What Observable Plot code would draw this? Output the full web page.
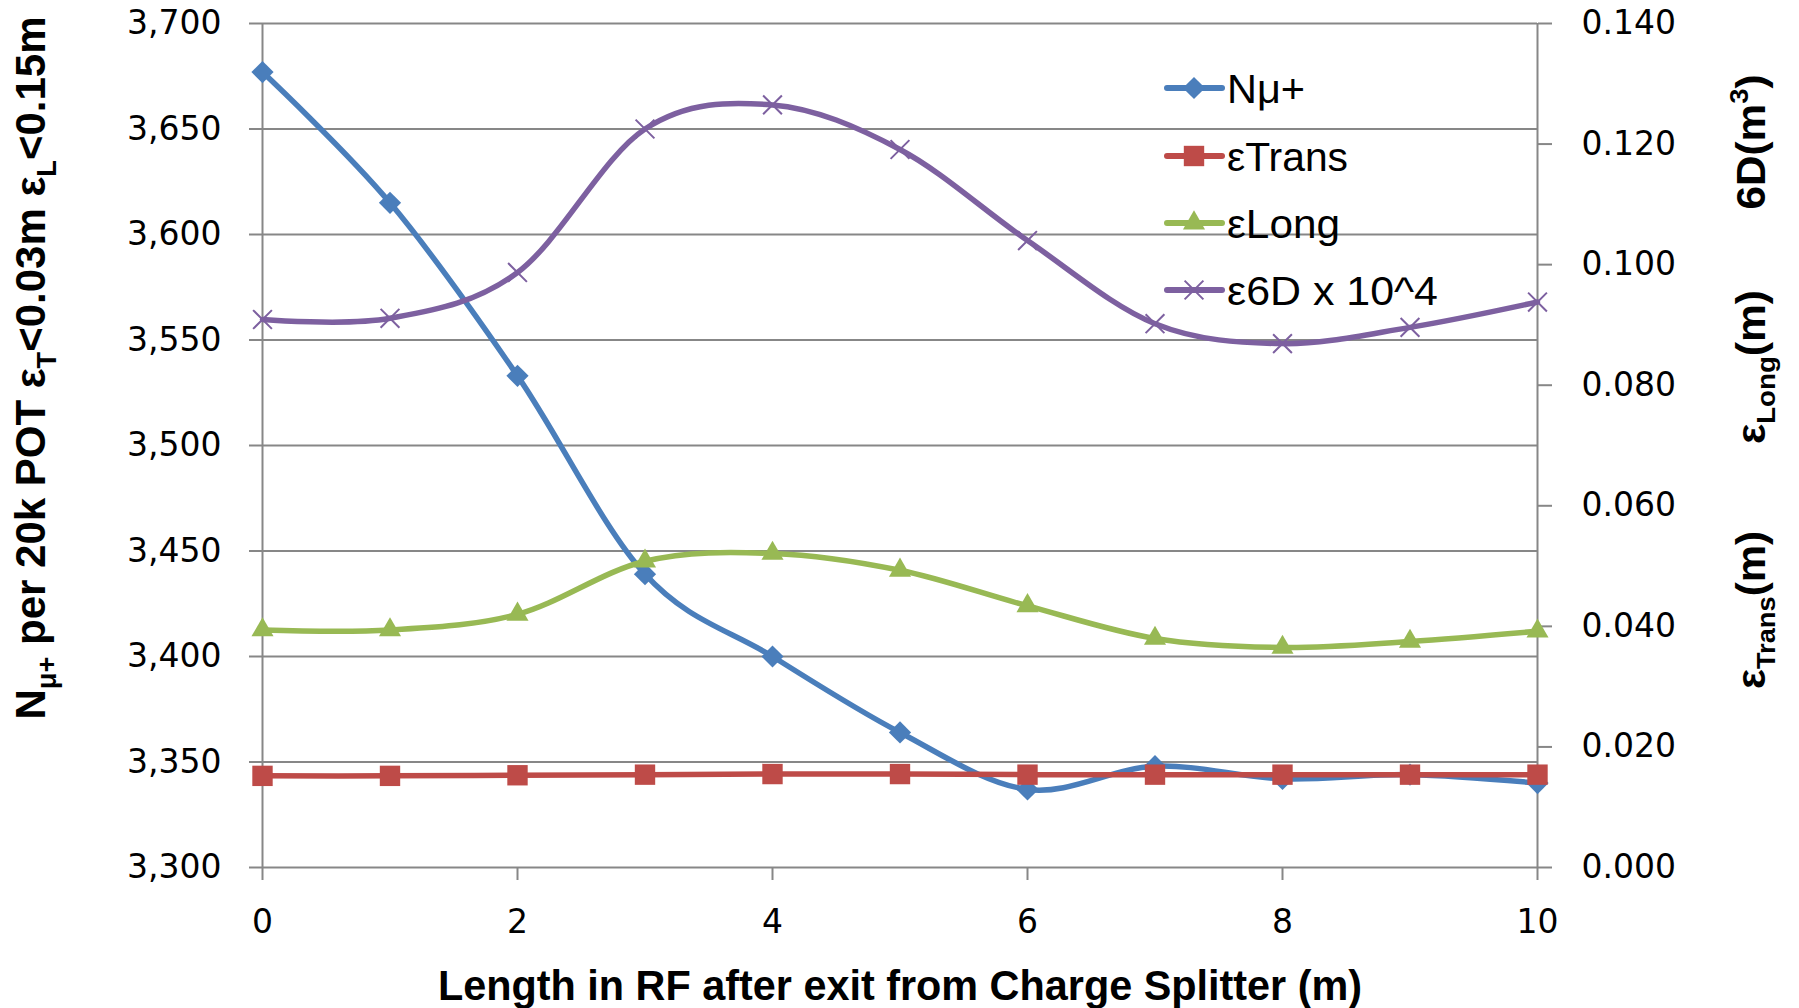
<!DOCTYPE html>
<html><head><meta charset="utf-8">
<script src="https://cdn.jsdelivr.net/npm/d3@7"></script>
<script src="https://cdn.jsdelivr.net/npm/@observablehq/plot@0.6"></script>
<style>
body{margin:0;background:#fff}
#chart{position:relative;width:1799px;height:1008px}
</style>
</head><body><div id="chart"></div>
<script>
// ---- data ----
const lengthM = [0, 1, 2, 3, 4, 5, 6, 7, 8, 9, 10];
const nMu     = [3677, 3615, 3533, 3439, 3400, 3364, 3337, 3348, 3342, 3344, 3340];
const eTrans  = [0.0152, 0.0152, 0.0153, 0.0154, 0.0155, 0.0155, 0.0154, 0.0154, 0.0154, 0.0154, 0.0154];
const eLong   = [0.0394, 0.0394, 0.0420, 0.0508, 0.0521, 0.0493, 0.0434, 0.0380, 0.0365, 0.0375, 0.0392];
const e6D     = [0.0909, 0.0911, 0.0987, 0.1225, 0.1265, 0.1191, 0.1040, 0.0902, 0.0869, 0.0896, 0.0938];
const seriesNames = ["Nμ+", "εTrans", "εLong", "ε6D x 10^4"];
const leftTicks  = [3300, 3350, 3400, 3450, 3500, 3550, 3600, 3650, 3700];
const rightTicks = [0, 0.02, 0.04, 0.06, 0.08, 0.10, 0.12, 0.14];
const xTicks     = [0, 2, 4, 6, 8, 10];

// ---- styles ----
const colors  = ["#4A7EBB", "#BE4B48", "#98B954", "#7D60A0"];
const symbols = ["diamond2", "square", "triangle", "times"];
const radii   = [10.0, 11.5, 8.2, 8.6];
const gridColor = "#878787";
const titleFont = "'Liberation Sans','Arial',sans-serif";

// dual axis mapping (right axis values placed in left-axis units)
const L0 = leftTicks[0], L1 = leftTicks[leftTicks.length - 1];
const R0 = rightTicks[0], R1 = rightTicks[rightTicks.length - 1];
const toLeft = v => L0 + (v - R0) / (R1 - R0) * (L1 - L0);
const fromLeft = y => R0 + (y - L0) / (L1 - L0) * (R1 - R0);

const seriesValues = [nMu, eTrans, eLong, e6D];
const rows = [];
seriesNames.forEach((s, si) => {
  lengthM.forEach((x, i) => {
    const v = seriesValues[si][i];
    rows.push({x, value: v, y: si === 0 ? v : toLeft(v), series: s});
  });
});

const marks = [
  Plot.ruleY(leftTicks, {stroke: gridColor, strokeWidth: 2}),
  Plot.ruleX(d3.extent(lengthM), {stroke: gridColor, strokeWidth: 2}),
  Plot.axisY({anchor: "left", ticks: leftTicks, tickFormat: d3.format(","), tickSize: 13, tickPadding: 28,
              stroke: gridColor, strokeWidth: 2, fill: "#000", label: null, fontSize: 33}),
  Plot.axisY({anchor: "right", ticks: rightTicks.map(toLeft), tickFormat: d => d3.format(".3f")(fromLeft(d)),
              tickSize: 14, tickPadding: 30, stroke: gridColor, strokeWidth: 2, fill: "#000", label: null, fontSize: 33}),
  Plot.axisX({ticks: xTicks, tickSize: 13, tickPadding: 29, stroke: gridColor, strokeWidth: 2,
              fill: "#000", label: null, fontSize: 33})
];
seriesNames.forEach((s, i) => {
  const d = rows.filter(r => r.series === s);
  marks.push(Plot.line(d, {x: "x", y: "y", stroke: colors[i], strokeWidth: 5.5, curve: "cardinal"}));
  if (symbols[i] === "times") {
    marks.push(Plot.dot(d, {x: "x", y: "y", symbol: symbols[i], r: radii[i], stroke: colors[i], strokeWidth: 2, fill: "none"}));
  } else {
    marks.push(Plot.dot(d, {x: "x", y: "y", symbol: symbols[i], r: radii[i], fill: colors[i], stroke: "none"}));
  }
});

const plot = Plot.plot({
  width: 1799, height: 1008,
  marginLeft: 262, marginRight: 262, marginTop: 23, marginBottom: 141,
  x: {domain: d3.extent(lengthM)},
  y: {domain: [L0, L1]},
  style: {fontFamily: "'DejaVu Sans', sans-serif", fontSize: "33px", background: "#fff", overflow: "visible"},
  marks
});
document.getElementById("chart").appendChild(plot);

const svg = d3.select(plot);

// rich text helper: parts = [[text, "sub"|"sup"|null], ...]
function richText(g, parts, size, weight, length, anchor) {
  const t = g.append("text").attr("font-family", titleFont).attr("font-weight", weight)
    .attr("font-size", size).attr("fill", "#000").attr("text-anchor", anchor || "middle");
  let shift = 0;
  parts.forEach(([txt, kind]) => {
    const ts = t.append("tspan").text(txt);
    const target = kind === "sub" ? 0.26 : kind === "sup" ? -0.42 : 0;
    const k = kind ? 0.65 : 1;
    if (kind) ts.attr("font-size", "0.65em");
    const dy = target - shift;
    if (dy !== 0) ts.attr("dy", (dy / k) + "em");
    shift = target;
  });
  if (length) t.attr("textLength", length).attr("lengthAdjust", "spacingAndGlyphs");
  return t;
}

// axis titles
richText(svg.append("g").attr("transform", "translate(45,368) rotate(-90)"),
  [["N"], ["μ+", "sub"], [" per 20k POT ε"], ["T", "sub"], ["<0.03m ε"], ["L", "sub"], ["<0.15m"]], 42, "bold", 703);
richText(svg.append("g").attr("transform", "translate(900,1000)"),
  [["Length in RF after exit from Charge Splitter (m)"]], 42, "bold", 924);
richText(svg.append("g").attr("transform", "translate(1765,142) rotate(-90)"),
  [["6D(m"], ["3", "sup"], [")"]], 40, "bold", 135);
richText(svg.append("g").attr("transform", "translate(1765,367) rotate(-90)"),
  [["ε"], ["Long", "sub"], ["(m)"]], 40, "bold", 154);
richText(svg.append("g").attr("transform", "translate(1765,610) rotate(-90)"),
  [["ε"], ["Trans", "sub"], ["(m)"]], 40, "bold", 158);

// legend
const legendRows = [88, 156, 223, 290];
const legendWidths = [78, 121, 113, 211];
const lg = svg.append("g");
const symMap = {diamond2: d3.symbolDiamond2, square: d3.symbolSquare, triangle: d3.symbolTriangle, times: d3.symbolTimes};
seriesNames.forEach((s, i) => {
  const y = legendRows[i];
  lg.append("line").attr("x1", 1167).attr("x2", 1222).attr("y1", y).attr("y2", y)
    .attr("stroke", colors[i]).attr("stroke-width", 6).attr("stroke-linecap", "round");
  const p = lg.append("path").attr("transform", `translate(1194,${y})`)
    .attr("d", d3.symbol(symMap[symbols[i]], Math.PI * radii[i] * radii[i])());
  if (symbols[i] === "times") p.attr("stroke", colors[i]).attr("stroke-width", 2).attr("fill", "none");
  else p.attr("fill", colors[i]);
  richText(lg.append("g").attr("transform", `translate(1227,${y + 15})`), [[s]], 40.5, "normal", legendWidths[i], "start");
});
</script>
</body></html>
